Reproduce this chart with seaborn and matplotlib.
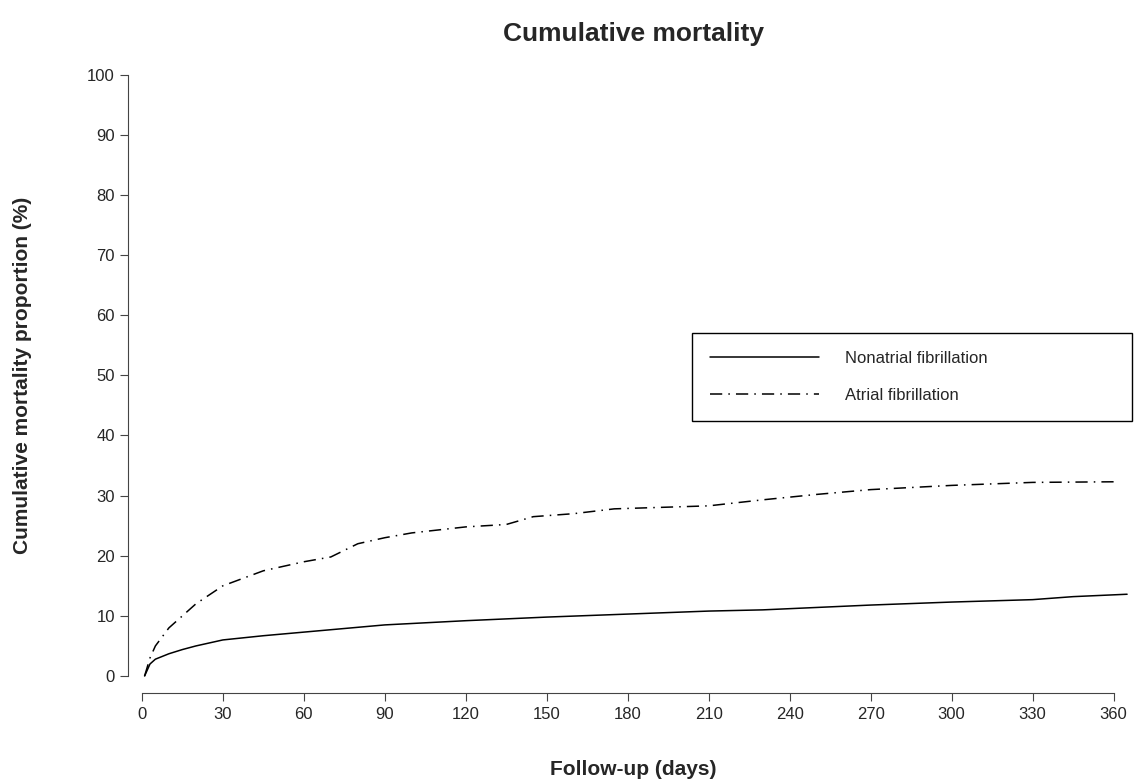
import matplotlib
matplotlib.use("Agg")
import matplotlib.pyplot as plt
import pandas as pd
import seaborn as sns

non_af_days = [1, 2, 3, 5, 10, 15, 20, 30, 45, 60, 75, 90, 120, 150, 180, 210, 230, 250, 270, 300, 330, 345, 365]
non_af_pct = [0, 1.0, 2.0, 2.8, 3.7, 4.4, 5.0, 6.0, 6.7, 7.3, 7.9, 8.5, 9.2, 9.8, 10.3, 10.8, 11.0, 11.4, 11.8, 12.3, 12.7, 13.2, 13.6]
af_days = [1, 3, 5, 10, 15, 20, 30, 45, 60, 70, 80, 90, 100, 120, 135, 145, 160, 175, 210, 230, 250, 270, 300, 330, 360]
af_pct = [0, 3.0, 5.0, 8.0, 10.0, 12.0, 15.0, 17.5, 19.0, 19.8, 22.0, 23.0, 23.8, 24.8, 25.2, 26.5, 27.0, 27.8, 28.3, 29.3, 30.2, 31.0, 31.7, 32.2, 32.3]

df = pd.concat([
    pd.DataFrame({"day": non_af_days, "pct": non_af_pct, "group": "Nonatrial fibrillation"}),
    pd.DataFrame({"day": af_days, "pct": af_pct, "group": "Atrial fibrillation"}),
])

sns.set_style("ticks")
plt.rcParams["font.family"] = ["Liberation Sans", "DejaVu Sans"]

fig, ax = plt.subplots(figsize=(11.47, 7.82), dpi=100)
sns.lineplot(data=df, x="day", y="pct", hue="group", style="group",
             palette=["black", "black"], dashes=["", (8, 4, 1, 4)],
             linewidth=1.1, ax=ax)

ax.set_xlim(-2, 366)
ax.set_ylim(-1.5, 101.5)
ax.set_xticks(range(0, 361, 30))
ax.set_yticks(range(0, 101, 10))
ax.tick_params(labelsize=12, length=6, color="#444444")
sns.despine(ax=ax, offset=6)
ax.spines["left"].set_bounds(0, 100)
ax.spines["bottom"].set_bounds(0, 360)
for s in ("left", "bottom"):
    ax.spines[s].set_color("#444444")

ax.set_xlabel("Follow-up (days)", fontsize=15, fontweight="bold", labelpad=28)
ax.set_ylabel("Cumulative mortality proportion (%)", fontsize=15, fontweight="bold", labelpad=40)
ax.set_title("Cumulative mortality", fontsize=19, fontweight="bold", pad=18)

leg = ax.legend(loc="upper left", bbox_to_anchor=(0.551, 0.429, 0.46, 0.153), mode="expand",
                fontsize=12, handlelength=6.5, borderpad=1.1, labelspacing=1.3, handletextpad=1.6,
                fancybox=False, edgecolor="black", framealpha=1)
leg.get_frame().set_linewidth(1.0)

fig.subplots_adjust(left=0.119, right=0.985, top=0.916, bottom=0.124)
fig.savefig("out.png", dpi=100)
